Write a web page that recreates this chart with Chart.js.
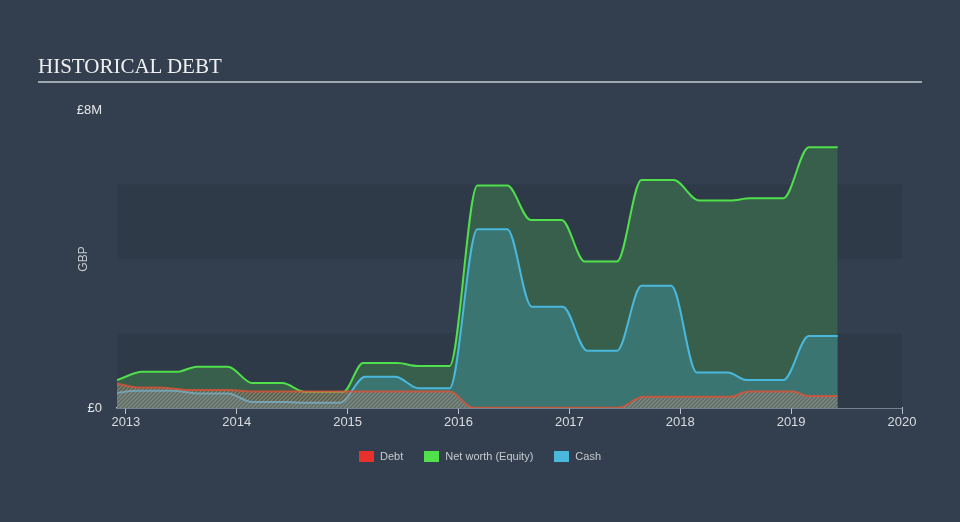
<!DOCTYPE html>
<html>
<head>
<meta charset="utf-8">
<script src="https://cdn.jsdelivr.net/npm/chart.js@4"></script>
<style>
  html, body { margin: 0; padding: 0; background: #333f4e; }
  #wrap { position: relative; width: 960px; height: 522px; overflow: hidden; }
  #titulo {
    position: absolute; left: 38px; top: 54px;
    font-family: "Liberation Serif", serif; font-size: 21px; color: #eef0f2;
  }
  #regla { position: absolute; left: 38px; top: 81px; width: 884px; height: 1.5px; background: #9ea6af; }
  #chart { position: absolute; left: 0; top: 0; }
  #leyenda {
    position: absolute; left: 0; width: 960px; top: 450px; text-align: center;
    font-family: "Liberation Sans", Arial, sans-serif; font-size: 11px; color: #c5cad0;
  }
  #leyenda span.item { display: inline-block; margin: 0 9px; }
  #leyenda i { display: inline-block; width: 15px; height: 11px; vertical-align: -2px; margin-right: 6px; }
</style>
</head>
<body>
<div id="wrap">
  <canvas id="chart" width="960" height="522"></canvas>
  <div id="titulo">HISTORICAL DEBT</div>
  <div id="regla"></div>
  <div id="leyenda">
    <span class="item"><i style="background:#e8302c"></i>Debt</span>
    <span class="item"><i style="background:#4fe04b"></i>Net worth (Equity)</span>
    <span class="item"><i style="background:#4ab8dc"></i>Cash</span>
  </div>
</div>
<script>
// valores en millones de GBP, fechas como años decimales
const netWorthFechas = [2012.92, 2013.15, 2013.46, 2013.64, 2013.92, 2014.14, 2014.41, 2014.62, 2014.96, 2015.14, 2015.45, 2015.63, 2015.92, 2016.17, 2016.44, 2016.65, 2016.93, 2017.14, 2017.43, 2017.65, 2017.94, 2018.17, 2018.45, 2018.63, 2018.93, 2019.16, 2019.42];
const netWorthValores = [0.75, 0.97, 0.97, 1.11, 1.11, 0.67, 0.67, 0.43, 0.43, 1.21, 1.21, 1.13, 1.13, 5.97, 5.97, 5.05, 5.05, 3.93, 3.93, 6.12, 6.12, 5.57, 5.57, 5.63, 5.63, 7.0, 7.0];

const cashFechas = [2012.92, 2013.10, 2013.42, 2013.67, 2013.92, 2014.14, 2014.45, 2014.63, 2014.93, 2015.16, 2015.43, 2015.64, 2015.92, 2016.17, 2016.44, 2016.66, 2016.94, 2017.16, 2017.43, 2017.65, 2017.92, 2018.15, 2018.43, 2018.60, 2018.93, 2019.16, 2019.42];
const cashValores = [0.41, 0.46, 0.46, 0.39, 0.39, 0.16, 0.16, 0.14, 0.14, 0.84, 0.84, 0.53, 0.53, 4.80, 4.80, 2.72, 2.72, 1.54, 1.54, 3.28, 3.28, 0.95, 0.95, 0.75, 0.75, 1.93, 1.93];

const debtFechas = [2012.92, 2013.10, 2013.29, 2013.58, 2013.94, 2014.12, 2015.92, 2016.13, 2017.44, 2017.67, 2018.45, 2018.61, 2019.02, 2019.15, 2019.42];
const debtValores = [0.66, 0.55, 0.55, 0.48, 0.48, 0.44, 0.44, 0.01, 0.01, 0.30, 0.30, 0.44, 0.44, 0.32, 0.32];

const yearTicks = [2013, 2014, 2015, 2016, 2017, 2018, 2019, 2020];
const yTicks = [0, 8];

const VERDE = '#4fe04b';
const AZUL = '#4ab8dc';
const ROJO = 'rgba(214,84,58,0.85)';

function puntos(fechas, valores) {
  return fechas.map((f, i) => ({ x: f, y: valores[i] }));
}

function rayado() {
  const c = document.createElement('canvas');
  c.width = 4; c.height = 4;
  const ctx = c.getContext('2d');
  ctx.fillStyle = 'rgba(200,85,60,0.22)';
  ctx.fillRect(0, 0, 4, 4);
  ctx.strokeStyle = 'rgba(165,160,158,0.55)';
  ctx.lineWidth = 1.3;
  ctx.beginPath();
  ctx.moveTo(0, 4); ctx.lineTo(4, 0);
  ctx.moveTo(-1, 1); ctx.lineTo(1, -1);
  ctx.moveTo(3, 5); ctx.lineTo(5, 3);
  ctx.stroke();
  return ctx.createPattern(c, 'repeat');
}

// franjas más oscuras en 0-2M y 4-6M
const franjas = {
  id: 'franjas',
  beforeDatasetsDraw(chart) {
    const { ctx, chartArea, scales } = chart;
    ctx.save();
    ctx.fillStyle = '#2f3a48';
    [[0, 2], [4, 6]].forEach(([a, b]) => {
      const y1 = scales.y.getPixelForValue(b);
      const y2 = scales.y.getPixelForValue(a);
      ctx.fillRect(chartArea.left, y1, chartArea.right - chartArea.left, y2 - y1);
    });
    ctx.restore();
  },
};

const base = {
  pointRadius: 0,
  borderWidth: 2,
  cubicInterpolationMode: 'monotone',
  fill: 'origin',
};

new Chart(document.getElementById('chart'), {
  type: 'line',
  data: {
    datasets: [
      { ...base, label: 'Debt', data: puntos(debtFechas, debtValores), borderColor: ROJO, backgroundColor: rayado() },
      { ...base, label: 'Cash', data: puntos(cashFechas, cashValores), borderColor: AZUL, backgroundColor: '#3b7571' },
      { ...base, label: 'Net worth (Equity)', data: puntos(netWorthFechas, netWorthValores), borderColor: VERDE, backgroundColor: '#375f4b' },
    ],
  },
  options: {
    responsive: false,
    animation: false,
    layout: { padding: { top: 110, right: 58, bottom: 0, left: 76 } },
    plugins: { legend: { display: false }, tooltip: { enabled: false } },
    scales: {
      x: {
        type: 'linear',
        min: 2012.92,
        max: 2020,
        afterBuildTicks: (s) => { s.ticks = yearTicks.map((v) => ({ value: v })); },
        afterFit: (s) => { s.height = 114; },
        grid: { drawOnChartArea: false, color: '#b9c0c8', tickLength: 6 },
        border: { display: true, color: '#b9c0c8', width: 1.5 },
        ticks: {
          color: '#d8dce0',
          font: { family: 'Liberation Sans', size: 13 },
          padding: 1,
          maxRotation: 0,
          callback: (v) => String(v),
        },
      },
      y: {
        min: 0,
        max: 8,
        afterBuildTicks: (s) => { s.ticks = yTicks.map((v) => ({ value: v })); },
        afterFit: (s) => { s.width = 41; },
        grid: { display: false },
        border: { display: false },
        title: {
          display: true,
          text: 'GBP',
          color: '#c5cad0',
          font: { family: 'Liberation Sans', size: 12 },
          padding: { top: 0, bottom: 0 },
        },
        ticks: {
          color: '#e4e7ea',
          font: { family: 'Liberation Sans', size: 13 },
          padding: 7,
          callback: (v) => (v === 0 ? '£0' : '£' + v + 'M'),
        },
      },
    },
  },
  plugins: [franjas],
});
</script>
</body>
</html>
